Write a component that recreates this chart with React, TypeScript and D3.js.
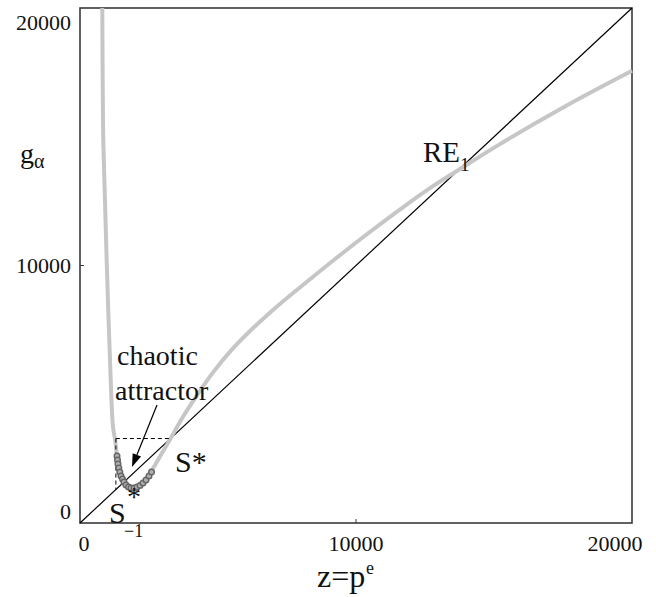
import React from 'react';
import * as d3 from 'd3';

// gray map g_alpha(z)
const CURVE_Z = [808, 822, 844, 906, 967, 1087, 1196, 1268, 1341, 1486, 1667, 1848, 2101, 2355, 2609, 2971, 3280, 3700, 4200, 4800, 5500, 6300, 7200, 8200, 9300, 10500, 11700, 12800, 13700, 15200, 17600, 20000];
const CURVE_G = [20000, 17165, 14835, 12505, 10175, 6330, 3728, 3262, 2641, 1864, 1476, 1359, 1437, 1670, 2058, 2718, 3280, 4070, 4900, 5820, 6730, 7600, 8470, 9350, 10300, 11300, 12260, 13090, 13700, 14705, 16193, 17561];

// chaotic attractor points
const ATTR_Z = [1341, 1359, 1377, 1406, 1442, 1486, 1540, 1594, 1667, 1757, 1848, 1957, 2065, 2174, 2283, 2391, 2500, 2591];
const ATTR_G = [2602, 2447, 2291, 2136, 1981, 1825, 1709, 1592, 1476, 1398, 1359, 1359, 1398, 1456, 1553, 1670, 1825, 1981];

const S_STAR = 3280;
const S_STAR_PRE = 1300;

const X_TICKS = [0, 10000, 20000];
const Y_TICKS = [0, 10000, 20000];

const W = 656;
const H = 597;
const FONT = "Liberation Serif, Tinos, Times New Roman, Times, Nimbus Roman, Nimbus Roman No9 L, FreeSerif, Noto Serif, DejaVu Serif, serif";

const T: React.FC<React.SVGProps<SVGTextElement>> = (props) => (
    <text fontFamily={FONT} fill="#111" {...props} />
);

const App: React.FC = () => {
    const x = d3.scaleLinear().domain([0, 20000]).range([80, 632]);
    const y = d3.scaleLinear().domain([0, 20000]).range([523, 8]);

    const curve = d3.line<number>()
        .x((_, i) => x(CURVE_Z[i]))
        .y((d) => y(d))
        .curve(d3.curveCatmullRom.alpha(0.5));

    // arrow from the label to the attractor
    const a0 = [x(2790), y(4582)];
    const a1 = [x(1884), y(2175)];
    const ang = Math.atan2(a1[1] - a0[1], a1[0] - a0[0]);
    const hl = 13, hw = 4.5;
    const bx = a1[0] - hl * Math.cos(ang), by = a1[1] - hl * Math.sin(ang);
    const head = `M${a1[0]},${a1[1]}L${bx + hw * Math.sin(ang)},${by - hw * Math.cos(ang)}L${bx - hw * Math.sin(ang)},${by + hw * Math.cos(ang)}Z`;

    const xTickDx = [4, 0, -17];
    const yTickDy = [-4, 7, 22];

    return (
        <div style={{ position: 'absolute', left: 0, top: 0 }}>
            <svg width={W} height={H} style={{ display: 'block', background: '#fff' }}>
                {/* frame */}
                <rect x={x(0)} y={y(20000)} width={x(20000) - x(0)} height={y(0) - y(20000)}
                      fill="none" stroke="#3a3a3a" strokeWidth={1.6} />
                {/* inner ticks */}
                <line x1={x(0)} x2={x(0) + 4} y1={y(10000)} y2={y(10000)} stroke="#3a3a3a" />
                <line x1={x(10000)} x2={x(10000)} y1={y(0)} y2={y(0) - 4} stroke="#3a3a3a" />

                {X_TICKS.map((t, i) => (
                    <T key={'x' + t} x={x(t) + xTickDx[i]} y={551} fontSize={22} textAnchor="middle">{t}</T>
                ))}
                {Y_TICKS.map((t, i) => (
                    <T key={'y' + t} x={x(0) - 9} y={y(t) + yTickDy[i]} fontSize={22} textAnchor="end">{t}</T>
                ))}

                {/* diagonal g = z */}
                <line x1={x(0)} y1={y(0)} x2={x(20000)} y2={y(20000)} stroke="#000" strokeWidth={1.2} />

                {/* gray map */}
                <path d={curve(CURVE_G) || ''} fill="none" stroke="#c6c6c6" strokeWidth={4} />

                {/* dashed construction lines */}
                <line x1={x(S_STAR_PRE)} x2={x(S_STAR)} y1={y(S_STAR)} y2={y(S_STAR)} stroke="#000" strokeWidth={1} strokeDasharray="4,3" />
                <line x1={x(S_STAR_PRE)} x2={x(S_STAR_PRE)} y1={y(S_STAR)} y2={y(S_STAR_PRE)} stroke="#000" strokeWidth={1} strokeDasharray="4,3" />

                {/* attractor */}
                {ATTR_Z.map((z, i) => (
                    <circle key={i} cx={x(z)} cy={y(ATTR_G[i])} r={2.8} fill="#b0b0b0" stroke="#666" strokeWidth={1.4} />
                ))}

                <line x1={a0[0]} y1={a0[1]} x2={bx} y2={by} stroke="#000" strokeWidth={1.2} />
                <path d={head} fill="#000" />

                <T x={x(1341)} y={y(6136)} fontSize={28}>chaotic</T>
                <T x={x(1268)} y={y(4777)} fontSize={28}>attractor</T>

                <T x={x(3442)} y={y(1981)} fontSize={30}>S*</T>

                <T x={x(1051)} y={y(0)} fontSize={30}>S</T>
                <T x={x(1051) + 18} y={y(0) - 17} fontSize={28}>*</T>
                <T x={x(1051) + 15} y={y(0) + 14} fontSize={18}>−1</T>

                <T x={x(12428)} y={y(14019)} fontSize={29}>RE</T>
                <T x={x(12428) + 37} y={y(14019) + 9} fontSize={19}>1</T>

                {/* axis titles */}
                <T x={20} y={163} fontSize={28}>g</T>
                <T x={34} y={168} fontSize={20}>α</T>

                <T x={317} y={587} fontSize={32}>z=p</T>
                <T x={366} y={574} fontSize={18}>e</T>
            </svg>
        </div>
    );
};

export default App;
